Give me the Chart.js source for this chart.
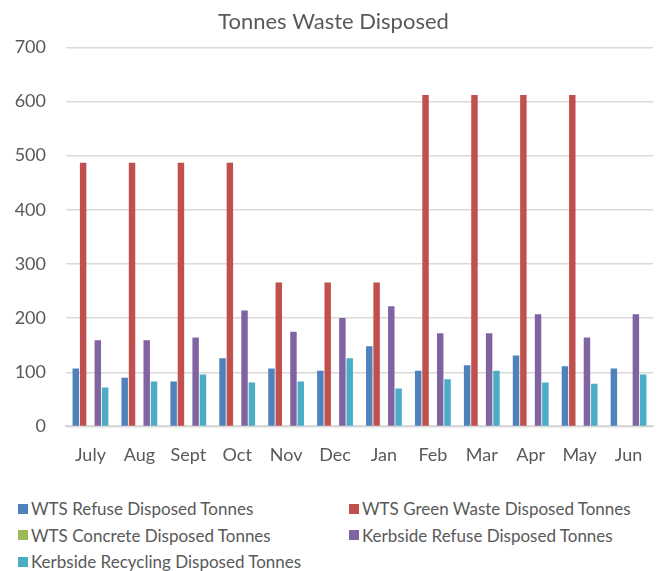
<!DOCTYPE html>
<html>
<head>
<meta charset="utf-8">
<script src="https://cdn.jsdelivr.net/npm/chart.js@4"></script>
<style>
  body { margin: 0; background: #fff; font-family: Lato, "Open Sans", sans-serif; }
  #wrap { width: 657px; height: 476px; position: relative; }
  #legenda { position: absolute; left: 18px; top: 498px; width: 639px; font-size: 17px; color: #595959; }
  .item { position: absolute; display: flex; align-items: center; white-space: nowrap; }
  .caixa { width: 10px; height: 10px; margin-right: 3px; }
</style>
</head>
<body>
<div id="wrap"><canvas id="graficoResiduos" width="657" height="476"></canvas></div>
<div id="legenda"></div>
<script>
const meses = ['July', 'Aug', 'Sept', 'Oct', 'Nov', 'Dec', 'Jan', 'Feb', 'Mar', 'Apr', 'May', 'Jun'];

const wtsRefuse = [107, 90, 83, 126, 107, 103, 148, 103, 113, 131, 111, 107];
const wtsGreen = [487, 487, 487, 487, 266, 266, 266, 612, 612, 612, 612, 0];
const wtsConcrete = [0, 0, 0, 0, 0, 0, 0, 0, 0, 0, 0, 0];
const kerbRefuse = [159, 159, 164, 214, 175, 200, 222, 172, 172, 207, 164, 207];
const kerbRecycling = [72, 83, 96, 81, 83, 126, 70, 87, 103, 81, 79, 96];

const ticksY = [0, 100, 200, 300, 400, 500, 600, 700];

const grafico = document.getElementById('graficoResiduos');

let findGrafico = new Chart(grafico, {
  type: 'bar',
  data: {
    labels: meses,
    datasets: [
      { label: 'WTS Refuse Disposed Tonnes', data: wtsRefuse, backgroundColor: '#4f81bd' },
      { label: 'WTS Green Waste Disposed Tonnes', data: wtsGreen, backgroundColor: '#c0504d' },
      { label: 'WTS Concrete Disposed Tonnes', data: wtsConcrete, backgroundColor: '#9bbb59' },
      { label: 'Kerbside Refuse Disposed Tonnes', data: kerbRefuse, backgroundColor: '#8064a2' },
      { label: 'Kerbside Recycling Disposed Tonnes', data: kerbRecycling, backgroundColor: '#4bacc6' }
    ]
  },
  options: {
    responsive: false,
    animation: false,
    datasets: {
      bar: { categoryPercentage: 0.75, barPercentage: 0.88 }
    },
    layout: { padding: { left: 14, right: 4, top: 0, bottom: 0 } },
    plugins: {
      legend: { display: false },
      tooltip: { enabled: false },
      title: {
        display: true,
        text: 'Tonnes Waste Disposed',
        color: '#595959',
        font: { family: 'Lato', size: 22, weight: 'normal' },
        padding: { top: 9, bottom: 12 }
      }
    },
    scales: {
      x: {
        grid: { display: false },
        border: { color: '#d9d9d9', width: 2 },
        ticks: { color: '#595959', font: { family: 'Lato', size: 18 }, padding: 10, maxRotation: 0, autoSkip: false }
      },
      y: {
        min: 0,
        max: 700,
        afterBuildTicks: function (eixo) {
          eixo.ticks = ticksY.map(function (v) { return { value: v }; });
        },
        afterFit: function (eixo) {
          eixo.width = 52; // largura fixa: rótulos + espaço até a grade
        },
        grid: { color: '#d9d9d9', lineWidth: 1.5, drawTicks: false },
        border: { display: false },
        ticks: { color: '#595959', font: { family: 'Lato', size: 18 }, padding: 20 }
      }
    }
  }
});

// legenda em duas colunas, feita a partir dos datasets
const legenda = document.getElementById('legenda');
const posicoes = [[0, 0], [331, 0], [0, 1], [331, 1], [0, 2]];
findGrafico.data.datasets.forEach(function (ds, i) {
  let item = document.createElement('div');
  item.className = 'item';
  item.style.left = posicoes[i][0] + 'px';
  item.style.top = (posicoes[i][1] * 26.5) + 'px';
  item.innerHTML = '<span class="caixa" style="background:' + ds.backgroundColor + '"></span>' + ds.label;
  legenda.appendChild(item);
});
</script>
</body>
</html>
